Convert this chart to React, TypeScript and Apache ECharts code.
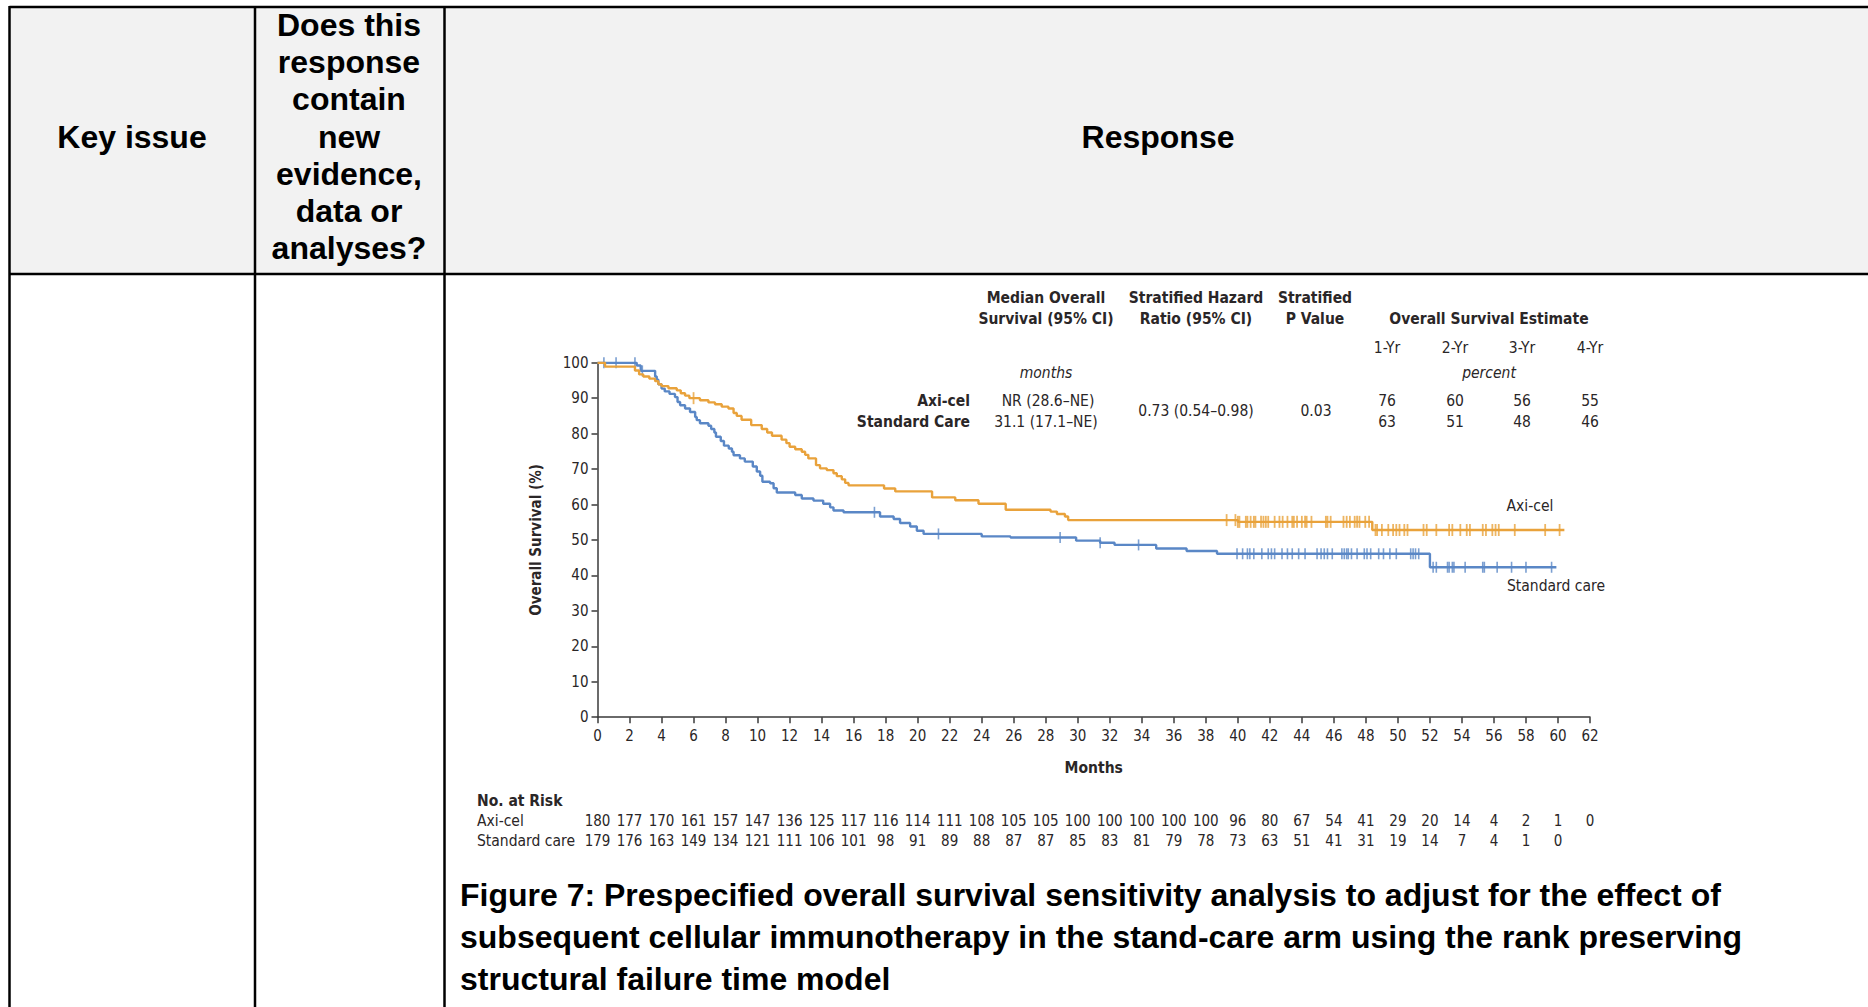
import React, { useEffect, useRef } from "react";
import * as echarts from "echarts";

// ---- Data ----
const axiCurve: [number, number][] = [
  [0, 100], [0.47, 98.9], [2.34, 97.8], [2.6, 96.7], [2.86, 96.1], [3.24, 95.5], [3.6, 94.8],
  [3.8, 93.9], [4.0, 93.4], [4.43, 92.8], [4.95, 92.2], [5.2, 91.4], [5.47, 90.7], [5.74, 90.0],
  [6.4, 89.4], [6.93, 88.8], [7.34, 88.3], [7.76, 87.6], [8.18, 87.1], [8.5, 85.8], [8.7, 85.0],
  [9.0, 83.9], [9.6, 82.4], [10.26, 81.3], [10.6, 80.3], [10.9, 79.4], [11.5, 78.3], [11.8, 77.3],
  [12.0, 76.3], [12.35, 75.6], [12.76, 74.9], [12.97, 74.0], [13.17, 73.0], [13.65, 71.1],
  [13.9, 70.2], [14.32, 69.7], [14.74, 68.8], [14.95, 68.0], [15.26, 67.1], [15.47, 66.1],
  [15.68, 65.4], [17.9, 64.5], [18.6, 63.7], [20.9, 62.0], [22.35, 61.2], [23.8, 60.2],
  [25.5, 58.5], [28.3, 58.0], [28.7, 57.3], [29.2, 56.6], [29.4, 55.6], [40.0, 55.1],
  [48.4, 52.8], [60.4, 52.8],
];
const socCurve: [number, number][] = [
  [0, 100], [2.45, 99.2], [2.7, 97.7], [3.6, 96.1], [3.7, 95.2], [3.8, 93.9], [4.0, 92.7],
  [4.2, 91.9], [4.5, 91.2], [4.84, 90.3], [5.0, 88.9], [5.16, 88.0], [5.47, 87.1], [5.78, 86.1],
  [6.1, 84.7], [6.2, 83.8], [6.4, 82.9], [6.93, 82.2], [7.1, 81.3], [7.3, 80.3], [7.4, 79.1],
  [7.7, 77.9], [7.9, 76.6], [8.2, 75.8], [8.4, 74.9], [8.5, 73.9], [8.9, 73.0], [9.2, 72.1],
  [9.7, 70.7], [9.95, 69.3], [10.16, 68.1], [10.3, 66.4], [10.78, 66.0], [11.0, 64.6],
  [11.2, 63.4], [12.35, 62.7], [12.76, 61.7], [13.49, 61.1], [14.1, 60.2], [14.53, 59.2],
  [14.74, 58.3], [15.37, 57.8], [17.65, 56.6], [18.5, 55.9], [18.9, 54.8], [19.53, 53.8],
  [19.95, 52.6], [20.37, 51.7], [24.0, 51.0], [25.8, 50.7], [29.9, 49.8], [31.4, 49.2],
  [32.3, 48.6], [34.9, 47.6], [36.8, 46.9], [38.7, 46.1], [52.0, 42.3], [59.9, 42.3],
];
const axiCensor: number[] = [
  6.0, 39.3, 39.85, 40.0, 40.1, 40.5, 40.6, 40.8, 41.0, 41.1, 41.45, 41.6, 41.75, 41.9, 42.3,
  42.6, 42.8, 43.1, 43.4, 43.5, 43.7, 44.0, 44.2, 44.3, 44.6, 45.5, 45.6, 45.8, 46.6, 46.8,
  47.0, 47.3, 47.45, 47.6, 47.96, 48.2, 48.6, 48.7, 49.0, 49.4, 49.7, 49.9, 50.1, 50.4, 50.6,
  51.6, 51.8, 52.4, 53.2, 53.4, 53.9, 54.3, 54.5, 55.3, 55.5, 55.9, 56.1, 56.3, 57.3, 59.2, 60.1,
];
const socCensor: number[] = [
  0.4, 1.16, 2.34, 2.8, 17.3, 21.3, 28.9, 31.4, 33.8, 39.95, 40.3, 40.6, 40.75, 41.0, 41.5,
  41.9, 42.1, 42.3, 42.76, 43.1, 43.4, 43.8, 44.2, 44.95, 45.2, 45.4, 45.6, 45.9, 46.5, 46.65,
  46.8, 46.9, 47.1, 47.45, 47.9, 48.07, 48.3, 48.8, 49.1, 49.5, 49.9, 50.8, 50.95, 51.1, 51.3,
  52.2, 52.4, 53.1, 53.2, 53.4, 53.5, 54.2, 55.3, 55.4, 56.2, 57.1, 58.0, 59.6,
];
const axiAtRisk = [180, 177, 170, 161, 157, 147, 136, 125, 117, 116, 114, 111, 108, 105, 105, 100,
  100, 100, 100, 100, 96, 80, 67, 54, 41, 29, 20, 14, 4, 2, 1, 0];
const socAtRisk = [179, 176, 163, 149, 134, 121, 111, 106, 101, 98, 91, 89, 88, 87, 87, 85, 83, 81,
  79, 78, 73, 63, 51, 41, 31, 19, 14, 7, 4, 1, 0];
const estimateYears = ["1-Yr", "2-Yr", "3-Yr", "4-Yr"];
const axiEstimates = ["76", "60", "56", "55"];
const socEstimates = ["63", "51", "48", "46"];
const col2Header = ["Does this", "response", "contain", "new", "evidence,", "data or", "analyses?"];
const captionLines = [
  "Figure 7: Prespecified overall survival sensitivity analysis to adjust for the effect of",
  "subsequent cellular immunotherapy in the stand-care arm using the rank preserving",
  "structural failure time model",
];

const ORANGE = "#E9A23B";
const BLUE = "#5A87C6";
const INK = "#2a2627";
const CF = "'DejaVu Sans Condensed', 'DejaVu Sans', sans-serif";
const AF = "'Liberation Sans', Arial, sans-serif";

function stepValue(curve: [number, number][], t: number): number {
  let v = curve[0][1];
  for (const [x, y] of curve) {
    if (x <= t) v = y;
    else break;
  }
  return v;
}

function txt(text: string, x: number, y: number, opts: any = {}) {
  return {
    type: "text",
    z: 10,
    style: {
      text,
      x,
      y,
      fill: opts.fill ?? INK,
      fontFamily: opts.fontFamily ?? CF,
      fontSize: opts.fontSize ?? 15.5,
      fontWeight: opts.fontWeight ?? "normal",
      fontStyle: opts.fontStyle ?? "normal",
      textAlign: opts.align ?? "center",
      textVerticalAlign: "middle",
    },
  };
}

function line(x1: number, y1: number, x2: number, y2: number, w = 2.5) {
  return { type: "line", z: 5, shape: { x1, y1, x2, y2 }, style: { stroke: "#000", lineWidth: w } };
}

export default function App() {
  const ref = useRef<HTMLDivElement>(null);
  useEffect(() => {
    if (!ref.current) return;
    const chart = echarts.init(ref.current, undefined, { renderer: "svg" });

    const graphics: any[] = [];
    graphics.push({ type: "rect", z: 0, shape: { x: 9.5, y: 7, width: 1860, height: 267 }, style: { fill: "#F2F2F2" } });
    graphics.push(line(9.5, 7, 1868, 7));
    graphics.push(line(9.5, 274, 1868, 274));
    graphics.push(line(9.5, 6, 9.5, 1007));
    graphics.push(line(255, 6, 255, 1007));
    graphics.push(line(444.5, 6, 444.5, 1007));
    const H = { fontFamily: AF, fontSize: 32, fontWeight: "bold", fill: "#000" };
    graphics.push(txt("Key issue", 132, 137, H));
    graphics.push(txt("Response", 1158, 137, H));
    col2Header.forEach((s, i) => graphics.push(txt(s, 349, 25 + i * 37.2, H)));
    captionLines.forEach((s, i) =>
      graphics.push(txt(s, 460, 895 + i * 42, { fontFamily: AF, fontSize: 32, fontWeight: "bold", fill: "#000", align: "left" }))
    );
    const B = { fontWeight: "bold" };
    graphics.push(txt("Median Overall", 1046, 298, B));
    graphics.push(txt("Survival (95% CI)", 1046, 319, B));
    graphics.push(txt("Stratified Hazard", 1196, 298, B));
    graphics.push(txt("Ratio (95% CI)", 1196, 319, B));
    graphics.push(txt("Stratified", 1315, 298, B));
    graphics.push(txt("P Value", 1315, 319, B));
    graphics.push(txt("Overall Survival Estimate", 1489, 319, B));
    const estX = [1387, 1455, 1522, 1590];
    estimateYears.forEach((s, i) => graphics.push(txt(s, estX[i], 348)));
    graphics.push(txt("months", 1046, 373, { fontStyle: "italic" }));
    graphics.push(txt("percent", 1489, 373, { fontStyle: "italic" }));
    graphics.push(txt("Axi-cel", 970, 401, { fontWeight: "bold", align: "right" }));
    graphics.push(txt("Standard Care", 970, 422, { fontWeight: "bold", align: "right" }));
    graphics.push(txt("NR (28.6\u2013NE)", 1048, 401));
    graphics.push(txt("31.1 (17.1\u2013NE)", 1046, 422));
    graphics.push(txt("0.73 (0.54\u20130.98)", 1196, 411));
    graphics.push(txt("0.03", 1316, 411));
    axiEstimates.forEach((s, i) => graphics.push(txt(s, estX[i], 401)));
    socEstimates.forEach((s, i) => graphics.push(txt(s, estX[i], 422)));
    graphics.push(txt("Axi-cel", 1530, 506));
    graphics.push(txt("Standard care", 1556, 586));
    graphics.push(txt("No. at Risk", 477, 801, { fontWeight: "bold", align: "left" }));
    graphics.push(txt("Axi-cel", 477, 821, { align: "left" }));
    graphics.push(txt("Standard care", 477, 841, { align: "left" }));

    const labelBase = { fontFamily: CF, fontSize: 15, color: INK };
    const riskAxis = (arr: number[], offset: number) => ({
      type: "value",
      min: 0,
      max: 62,
      interval: 2,
      position: "bottom",
      offset,
      axisLine: { show: false },
      axisTick: { show: false },
      splitLine: { show: false },
      axisLabel: {
        ...labelBase,
        margin: 0,
        verticalAlign: "middle",
        showMinLabel: true,
        showMaxLabel: true,
        formatter: (v: number) => {
          const k = Math.round(v / 2);
          return arr[k] !== undefined ? String(arr[k]) : "";
        },
      },
    });

    chart.setOption({
      animation: false,
      backgroundColor: "#ffffff",
      grid: { left: 597.5, right: 278, top: 362.7, bottom: 289.8, containLabel: false },
      xAxis: [
        {
          type: "value",
          min: 0,
          max: 62,
          interval: 2,
          name: "Months",
          nameLocation: "middle",
          nameGap: 43,
          nameTextStyle: { fontFamily: CF, fontSize: 15.5, fontWeight: "bold", color: INK },
          axisLine: { onZero: false, lineStyle: { color: "#3a3a3a", width: 1.5 } },
          axisTick: { length: 6, lineStyle: { color: "#3a3a3a", width: 1.5 } },
          splitLine: { show: false },
          axisLabel: { ...labelBase, margin: 19, verticalAlign: "middle", showMinLabel: true, showMaxLabel: true },
        },
        riskAxis(axiAtRisk, 103.8),
        riskAxis(socAtRisk, 123.8),
      ],
      yAxis: {
        type: "value",
        min: 0,
        max: 100,
        interval: 10,
        name: "Overall Survival (%)",
        nameLocation: "middle",
        nameGap: 54,
        nameRotate: 90,
        nameTextStyle: { fontFamily: CF, fontSize: 15, fontWeight: "bold", color: INK },
        axisLine: { show: true, lineStyle: { color: "#3a3a3a", width: 1.5 } },
        axisTick: { show: true, length: 6, lineStyle: { color: "#3a3a3a", width: 1.5 } },
        splitLine: { show: false },
        axisLabel: { ...labelBase, margin: 9 },
      },
      series: [
        {
          type: "line",
          step: "end",
          data: socCurve,
          showSymbol: false,
          lineStyle: { color: BLUE, width: 2.4 },
          z: 3,
        },
        {
          type: "line",
          step: "end",
          data: axiCurve,
          showSymbol: false,
          lineStyle: { color: ORANGE, width: 2.4 },
          z: 4,
        },
        {
          type: "scatter",
          data: socCensor.map((t) => [t, stepValue(socCurve, t)]),
          symbol: "rect",
          symbolSize: [1.6, 11],
          itemStyle: { color: BLUE },
          z: 3,
        },
        {
          type: "scatter",
          data: axiCensor.map((t) => [t, stepValue(axiCurve, t)]),
          symbol: "rect",
          symbolSize: [1.8, 12],
          itemStyle: { color: ORANGE },
          z: 4,
        },
      ],
      graphic: graphics,
    });
    return () => chart.dispose();
  }, []);

  return (
    <div
      ref={ref}
      style={{ position: "fixed", left: 0, top: 0, width: 1868, height: 1007, background: "#fff" }}
    />
  );
}
